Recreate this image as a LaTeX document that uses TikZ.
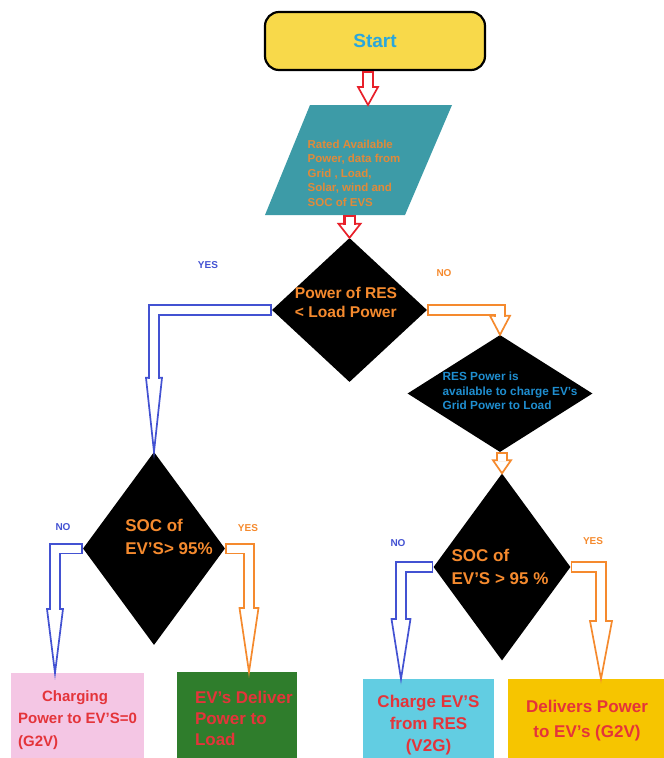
\documentclass[tikz,border=0pt]{standalone}
\usepackage{fontspec}
\setmainfont{Liberation Sans}
\usepackage{tikz}
\usetikzlibrary{positioning,shapes.geometric,calc}

\definecolor{startY}{HTML}{F8D94A}
\definecolor{startB}{HTML}{2AA7DC}
\definecolor{tealc}{HTML}{3D9BA7}
\definecolor{dataO}{HTML}{E08A3A}
\definecolor{decO}{HTML}{F58A2E}
\definecolor{resB}{HTML}{1F8ED0}
\definecolor{yesB}{HTML}{4352D2}
\definecolor{arrR}{HTML}{E8202A}
\definecolor{txtR}{HTML}{E4343A}
\definecolor{pinkc}{HTML}{F4C6E4}
\definecolor{greenc}{HTML}{2F7D2C}
\definecolor{cyanc}{HTML}{62CDE2}
\definecolor{goldc}{HTML}{F6C500}

\begin{document}
\begin{tikzpicture}[
    x=1pt, y=-1pt,
    term/.style={draw=black, line width=2.2pt, rounded corners=14pt, fill=startY, minimum width=220, minimum height=58, text=startB, font=\fontsize{19}{23}\selectfont\bfseries},
    dec/.style={diamond, fill=black, inner sep=0pt},
    dtxt/.style={align=left, inner sep=0pt},
    lbl/.style={font=\fontsize{10}{12}\selectfont\bfseries, inner sep=0pt},
    endbox/.style={anchor=north, inner sep=0pt, text=txtR, font=\fontsize{17}{23}\selectfont\bfseries},
    flow/.style={draw=#1, line width=11.5pt, postaction={draw=white, line width=8pt, shorten <=1.7pt}},
    head/.style={draw=#1, line width=1.7pt, fill=white, line join=miter},
  ]
  \useasboundingbox (0,0) rectangle (664,758);
  \clip (0,0) rectangle (664,758);

  % shapes
  \node[term] (start) at (375,41) {Start};
  \fill[tealc] (310,105) coordinate (datatop) -- (452,105) -- (405,215) -- (265,215) -- cycle;
  \coordinate (databot) at (349.5,215);
  \node[dtxt, text=dataO, font=\fontsize{11.5}{14.5}\selectfont\bfseries] (datat) at (354,173)
    {Rated Available\\Power, data from\\Grid , Load,\\Solar, wind and\\SOC of EVS};
  \node[dec, minimum width=155, minimum height=144] (q1) at (349.5,310) {};
  \node[dtxt, text=decO, font=\fontsize{15.6}{19}\selectfont\bfseries] (q1t) at (346,302)
    {Power of RES\\< Load Power};
  \node[dec, minimum width=185, minimum height=117] (q2) at (500,393.5) {};
  \node[dtxt, text=resB, font=\fontsize{11.8}{14.5}\selectfont\bfseries] (q2t) at (510,391)
    {RES Power is\\available to charge EV's\\Grid Power to Load};
  \node[dec, minimum width=137, minimum height=187] (q3) at (502,567) {};
  \node[dtxt, text=decO, font=\fontsize{17}{22.5}\selectfont\bfseries] (q3t) at (500,567)
    {SOC of\\EV'S > 95 \%};
  \node[dec, minimum width=142, minimum height=193] (q4) at (154,548.5) {};
  \node[dtxt, text=decO, font=\fontsize{17}{22.5}\selectfont\bfseries] (q4t) at (169,537)
    {SOC of\\EV'S> 95\%};

  % end boxes
  \node[endbox, fill=pinkc, minimum width=133, minimum height=93, align=left, font=\fontsize{15}{22.5}\selectfont\bfseries] (g2v) at (77.5,673)
    {\hspace*{24pt}Charging\\Power to EV’S=0\\(G2V)};
  \node[endbox, fill=greenc, minimum width=120, minimum height=92, align=left, font=\fontsize{17}{21}\selectfont\bfseries] (deliv) at (237,672)
    {\makebox[84pt][l]{EV's Deliver}\\Power to\\Load};
  \node[endbox, fill=cyanc, minimum width=131, minimum height=92, align=center, font=\fontsize{17}{22}\selectfont\bfseries] (v2g) at (428.5,679)
    {Charge EV’S\\from RES\\(V2G)};
  \node[endbox, fill=goldc, minimum width=158, minimum height=83, align=center, font=\fontsize{17}{25}\selectfont\bfseries] (g2vb) at (587,679)
    {Delivers Power\\to EV's (G2V)};

  % branch labels
  \node[lbl, text=yesB] (yes1) at (208,265) {YES};
  \node[lbl, text=decO] (no1) at (444,273) {NO};
  \node[lbl, text=yesB] (no4) at (63,527) {NO};
  \node[lbl, text=decO] (yes4) at (248,528) {YES};
  \node[lbl, text=yesB] (no3) at (398,543) {NO};
  \node[lbl, text=decO] (yes3) at (593,541) {YES};

  % arrow tips on the boxes
  \coordinate (t1) at (368,105);
  \coordinate (tn4) at (55,673);
  \coordinate (ty4) at (249,672);
  \coordinate (tn3) at (401,679);
  \coordinate (ty3) at (601,679);

  % hollow arrows: heads first, shafts on top
  \draw[head=arrR] (t1) -- ++(-10,-18) -- ++(20,0) -- cycle;
  \draw[flow=arrR, line width=12.6pt, postaction={line width=9pt}] (start.south -| t1) -- ($(t1)+(0,-17)$);
  \draw[head=arrR] (q1.north) -- ++(-11,-14) -- ++(22,0) -- cycle;
  \draw[flow=arrR, line width=12.6pt, postaction={line width=9pt}] (databot) -- ($(q1.north)+(0,-13)$);

  \draw[head=yesB] (q4.north) -- ++(-8,-74) -- ++(16,0) -- cycle;
  \draw[flow=yesB] (q1.west) -| ($(q4.north)+(0,-73)$);
  \draw[head=decO] (q2.north) -- ++(-10,-19) -- ++(20,0) -- cycle;
  \draw[flow=decO] (q1.east) -| ($(q2.north)+(0,-18)$);
  \draw[head=decO] (q3.north) -- ++(-9,-13) -- ++(18,0) -- cycle;
  \draw[flow=decO] (q2.south -| q3.north) -- ($(q3.north)+(0,-12)$);

  \draw[head=yesB] (tn4) -- ++(-8,-64) -- ++(16,0) -- cycle;
  \draw[flow=yesB] (q4.west) -| ($(tn4)+(0,-63)$);
  \draw[head=decO] (ty4) -- ++(-9.5,-64) -- ++(19,0) -- cycle;
  \draw[flow=decO] (q4.east) -| ($(ty4)+(0,-63)$);
  \draw[head=yesB] (tn3) -- ++(-9.5,-60) -- ++(19,0) -- cycle;
  \draw[flow=yesB] (q3.west) -| ($(tn3)+(0,-59)$);
  \draw[head=decO] (ty3) -- ++(-11,-58) -- ++(22,0) -- cycle;
  \draw[flow=decO] (q3.east) -| ($(ty3)+(0,-57)$);
\end{tikzpicture}
\end{document}
